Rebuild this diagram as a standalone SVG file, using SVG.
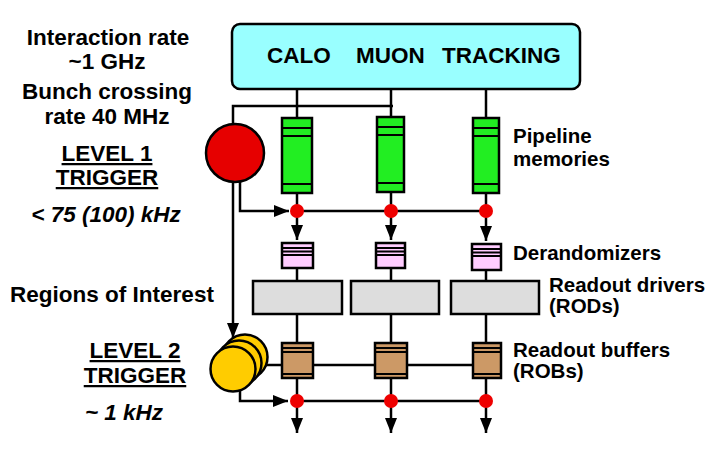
<svg xmlns="http://www.w3.org/2000/svg" width="706" height="465" viewBox="0 0 706 465">
<style>
text{font-family:"Liberation Sans",Arial,Helvetica,sans-serif;font-weight:bold;fill:#000}
.top{font-size:22.5px}
.big{font-size:22.5px}
.lab{font-size:20.5px}
.c{text-anchor:middle}
.it{font-style:italic}
.u{text-decoration:underline}
.ln{fill:none;stroke:#000;stroke-width:2.5}
.bx{stroke:#000;stroke-width:2.5}
.thin{stroke:#000;stroke-width:2;fill:none}
.green{fill:#22ee22}
.pink{fill:#ffccff}
.grey{fill:#dddddd}
.brown{fill:#cc9966}
.dot{fill:#ee0000}
</style>
<defs>
<marker id="ah" viewBox="0 0 15 12" refX="15" refY="6" markerWidth="15" markerHeight="12" orient="auto" markerUnits="userSpaceOnUse">
<path d="M0,0 L15,6 L0,12 z" fill="#000"/>
</marker>
</defs>

<g id="connectors">
<path class="ln" d="M297,89 V118"/>
<path class="ln" d="M391,89 V117"/>
<path class="ln" d="M486,89 V118"/>
<path class="ln" d="M233,123 V106 H393"/>
<path class="ln" d="M297,193 V211"/>
<path class="ln" d="M391,192 V211"/>
<path class="ln" d="M486,193 V211"/>
<path class="ln" d="M240,182 V211 H289" marker-end="url(#ah)"/>
<path class="ln" d="M297,211 H486"/>
<path class="ln" d="M297,211 V240" marker-end="url(#ah)"/>
<path class="ln" d="M391,211 V240" marker-end="url(#ah)"/>
<path class="ln" d="M486,211 V241" marker-end="url(#ah)"/>
<path class="ln" d="M297,268 V281"/>
<path class="ln" d="M391,268 V281"/>
<path class="ln" d="M486,270 V281"/>
<path class="ln" d="M297,314 V343"/>
<path class="ln" d="M391,314 V343"/>
<path class="ln" d="M486,314 V343"/>
<path class="ln" d="M233,183 V338" marker-end="url(#ah)"/>
<path class="ln" d="M266,365 H473"/>
<path class="ln" d="M297,378 V401"/>
<path class="ln" d="M391,378 V401"/>
<path class="ln" d="M486,378 V401"/>
<path class="ln" d="M240,390 V401 H288" marker-end="url(#ah)"/>
<path class="ln" d="M297,401 H486"/>
<path class="ln" d="M297,401 V433" marker-end="url(#ah)"/>
<path class="ln" d="M391,401 V433" marker-end="url(#ah)"/>
<path class="ln" d="M486,401 V433" marker-end="url(#ah)"/>
</g>

<g id="detectors">
<rect x="232" y="24" width="348" height="65" rx="8" fill="#99ffff" class="bx"/>
<text class="top" x="267" y="63">CALO</text>
<text class="top" x="356" y="63">MUON</text>
<text class="top" x="442" y="63">TRACKING</text>
</g>

<g id="level1-trigger">
<circle cx="235" cy="153" r="29" fill="#e60000" class="bx" stroke-width="3"/>
</g>

<g id="pipeline-memories">
<rect x="282" y="118" width="30" height="75" class="bx green"/>
<path class="thin" d="M282,128 H312 M282,136 H312 M282,184 H312"/>
<rect x="377" y="117" width="27" height="75" class="bx green"/>
<path class="thin" d="M377,127 H404 M377,135 H404 M377,183 H404"/>
<rect x="473" y="118" width="26" height="75" class="bx green"/>
<path class="thin" d="M473,128 H499 M473,136 H499 M473,184 H499"/>
</g>

<g id="l1-dots">
<circle cx="297" cy="211" r="7" class="dot"/>
<circle cx="391" cy="211" r="7" class="dot"/>
<circle cx="486" cy="211" r="7" class="dot"/>
</g>

<g id="derandomizers">
<rect x="282" y="243" width="31" height="25" class="bx pink"/>
<path class="thin" d="M282,248 H313 M282,251.5 H313 M282,255 H313"/>
<rect x="376" y="243" width="29" height="25" class="bx pink"/>
<path class="thin" d="M376,248 H405 M376,251.5 H405 M376,255 H405"/>
<rect x="472" y="244" width="29" height="26" class="bx pink"/>
<path class="thin" d="M472,249 H501 M472,252.5 H501 M472,256 H501"/>
</g>

<g id="readout-drivers">
<rect x="253" y="281" width="89" height="33" class="bx grey"/>
<rect x="351" y="281" width="88" height="33" class="bx grey"/>
<rect x="451" y="281" width="88" height="33" class="bx grey"/>
</g>

<g id="level2-trigger">
<circle cx="245" cy="357" r="22.5" fill="#ffcc00" class="bx"/>
<circle cx="239" cy="363" r="22.5" fill="#ffcc00" class="bx"/>
<circle cx="233" cy="369" r="22.5" fill="#ffcc00" class="bx"/>
</g>

<g id="readout-buffers">
<rect x="282" y="343" width="31" height="35" class="bx brown"/>
<path class="thin" d="M282,348 H313 M282,352 H313 M282,374 H313"/>
<rect x="375" y="343" width="32" height="35" class="bx brown"/>
<path class="thin" d="M375,348 H407 M375,352 H407 M375,374 H407"/>
<rect x="473" y="343" width="28" height="35" class="bx brown"/>
<path class="thin" d="M473,348 H501 M473,352 H501 M473,374 H501"/>
</g>

<g id="l2-dots">
<circle cx="297" cy="401" r="7" class="dot"/>
<circle cx="391" cy="401" r="7" class="dot"/>
<circle cx="486" cy="401" r="7" class="dot"/>
</g>

<g id="left-labels">
<text class="big c" x="108" y="45">Interaction rate</text>
<text class="big c" x="107" y="69">~1 GHz</text>
<text class="big c" x="107" y="99">Bunch crossing</text>
<text class="big c" x="107" y="124">rate 40 MHz</text>
<text class="big c u" x="107" y="161">LEVEL 1</text>
<text class="big c u" x="107" y="185">TRIGGER</text>
<text class="big c it" x="106" y="222">&lt; 75 (100) kHz</text>
<text class="big c" x="112" y="302">Regions of Interest</text>
<text class="big c u" x="135" y="358">LEVEL 2</text>
<text class="big c u" x="135" y="383">TRIGGER</text>
<text class="big c it" x="124" y="420">~ 1 kHz</text>
</g>

<g id="right-labels">
<text class="lab" x="513" y="143">Pipeline</text>
<text class="lab" x="513" y="166">memories</text>
<text class="lab" x="513" y="260">Derandomizers</text>
<text class="lab" x="549" y="292">Readout drivers</text>
<text class="lab" x="549" y="313">(RODs)</text>
<text class="lab" x="513" y="357">Readout buffers</text>
<text class="lab" x="513" y="378">(ROBs)</text>
</g>
</svg>
